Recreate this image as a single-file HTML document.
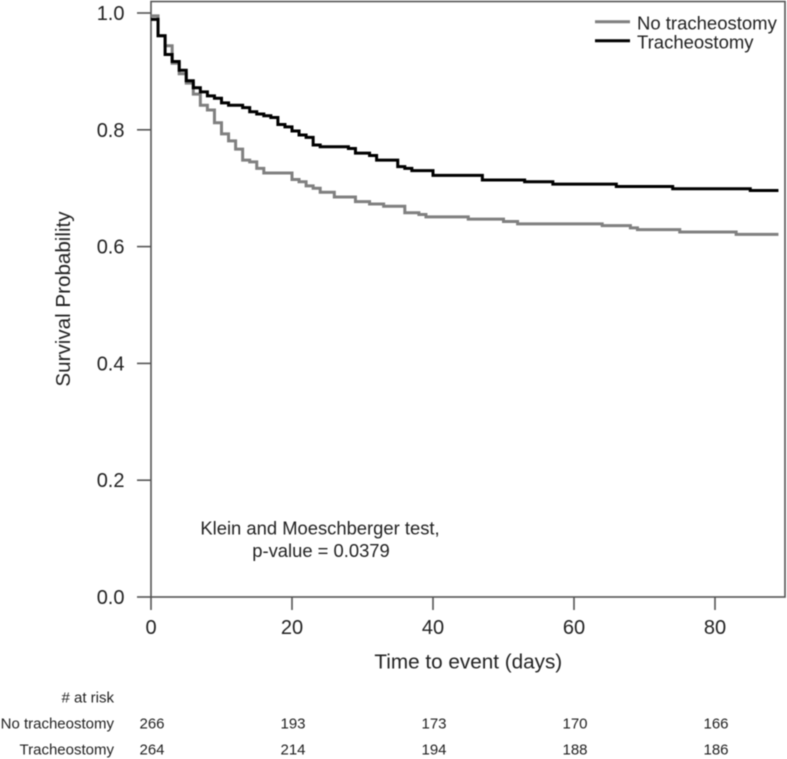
<!DOCTYPE html>
<html lang="en">
<head>
<meta charset="utf-8">
<title>Survival by tracheostomy status</title>
<style>
html,body{margin:0;padding:0;background:#fff;}
svg{display:block;filter:blur(0.4px);}
text{font-family:"Liberation Sans",Arial,sans-serif;fill:#222;}
</style>
</head>
<body>
<svg id="chart" width="787" height="759" viewBox="0 0 787 759" xmlns="http://www.w3.org/2000/svg">
  <rect width="787" height="759" fill="#fff"/>
  <rect x="151" y="1.5" width="634" height="595.5" fill="none" stroke="#555" stroke-width="1.6"/>
  <g id="axes"></g>
  <g id="series"></g>
  <g>
    <line x1="595" x2="630" y1="21.7" y2="21.7" stroke="#808080" stroke-width="3"/>
    <text x="637" y="29.3" font-size="18.5">No tracheostomy</text>
    <line x1="595" x2="630" y1="40.7" y2="40.7" stroke="#000" stroke-width="3"/>
    <text x="637" y="48.7" font-size="18.5">Tracheostomy</text>
  </g>
  <text transform="translate(70,299) rotate(-90)" text-anchor="middle" font-size="20.6">Survival Probability</text>
  <text x="468.3" y="668.5" text-anchor="middle" font-size="20.7">Time to event (days)</text>
  <text x="320" y="534.5" text-anchor="middle" font-size="18.4">Klein and Moeschberger test,</text>
  <text x="321" y="557" text-anchor="middle" font-size="18.4">p-value = 0.0379</text>
  <g id="risk">
    <text x="114" y="702.5" text-anchor="end" font-size="15"># at risk</text>
    <text x="114" y="728.5" text-anchor="end" font-size="15">No tracheostomy</text>
    <text x="114" y="754.5" text-anchor="end" font-size="15">Tracheostomy</text>
  </g>
</svg>
<script>
const xTicks = [0, 20, 40, 60, 80];
const yTicks = [0, 0.2, 0.4, 0.6, 0.8, 1.0];
const riskTimes = [0, 20, 40, 60, 80];
const riskNoTrach = [266, 193, 173, 170, 166];
const riskTrach = [264, 214, 194, 188, 186];
const endDay = 89;

const noTrachDays = [0,1,2,3,4,5,6,7,8,9,10,11,12,13,14,15,16,20,21,22,23,24,26,29,31,33,36,38,39,45,50,52,64,68,69,75,83];
const noTrachSurv = [0.995,0.961,0.944,0.914,0.896,0.880,0.861,0.842,0.834,0.812,0.793,0.781,0.767,0.748,0.745,0.734,0.726,0.715,0.711,0.704,0.700,0.693,0.685,0.677,0.673,0.669,0.658,0.655,0.651,0.647,0.643,0.639,0.636,0.632,0.629,0.625,0.621];

const trachDays = [0,1,2,3,4,5,6,7,8,9,10,11,13,14,15,16,17,18,19,20,21,22,23,24,28,29,31,32,35,36,37,40,47,53,57,66,74,85];
const trachSurv = [0.989,0.961,0.929,0.917,0.902,0.884,0.872,0.865,0.858,0.854,0.846,0.842,0.838,0.831,0.827,0.824,0.821,0.809,0.805,0.798,0.791,0.787,0.774,0.771,0.768,0.760,0.756,0.748,0.737,0.734,0.730,0.722,0.714,0.711,0.707,0.703,0.699,0.696];

const NS = 'http://www.w3.org/2000/svg';
function xScale(d) { return 151 + d * 7.05; }
function yScale(s) { return 597 - s * 584; }

function stepPath(days, surv) {
  let d = 'M' + xScale(days[0]) + ' ' + yScale(surv[0]);
  for (let i = 1; i < days.length; i++) {
    d += 'H' + xScale(days[i]) + 'V' + yScale(surv[i]);
  }
  return d + 'H' + xScale(endDay);
}

const axes = document.getElementById('axes');
xTicks.forEach(function (t) {
  const tick = document.createElementNS(NS, 'line');
  
  
  tick.setAttribute('x1', xScale(t));
  tick.setAttribute('x2', xScale(t));
  tick.setAttribute('y1', 597);
  tick.setAttribute('y2', 610);
  tick.setAttribute('stroke', '#555');
  tick.setAttribute('stroke-width', 1.6);
  axes.appendChild(tick);
  const label = document.createElementNS(NS, 'text');
  
  
  label.setAttribute('x', xScale(t));
  label.setAttribute('y', 634);
  label.setAttribute('text-anchor', 'middle');
  label.setAttribute('font-size', 20);
  label.textContent = String(t);
  axes.appendChild(label);
});
yTicks.forEach(function (t) {
  const tick = document.createElementNS(NS, 'line');
  
  
  tick.setAttribute('x1', 137);
  tick.setAttribute('x2', 151);
  tick.setAttribute('y1', yScale(t));
  tick.setAttribute('y2', yScale(t));
  tick.setAttribute('stroke', '#555');
  tick.setAttribute('stroke-width', 1.6);
  axes.appendChild(tick);
  const label = document.createElementNS(NS, 'text');
  
  
  label.setAttribute('x', 124.5);
  label.setAttribute('y', yScale(t) + 7);
  label.setAttribute('text-anchor', 'end');
  label.setAttribute('font-size', 20);
  label.textContent = t.toFixed(1);
  axes.appendChild(label);
});

const seriesGroup = document.getElementById('series');
const grayCurve = document.createElementNS(NS, 'path');


grayCurve.setAttribute('d', stepPath(noTrachDays, noTrachSurv));
grayCurve.setAttribute('fill', 'none');
grayCurve.setAttribute('stroke', '#808080');
grayCurve.setAttribute('stroke-width', 3);
seriesGroup.appendChild(grayCurve);
const blackCurve = document.createElementNS(NS, 'path');


blackCurve.setAttribute('d', stepPath(trachDays, trachSurv));
blackCurve.setAttribute('fill', 'none');
blackCurve.setAttribute('stroke', '#000');
blackCurve.setAttribute('stroke-width', 3);
seriesGroup.appendChild(blackCurve);

const risk = document.getElementById('risk');
riskTimes.forEach(function (t, i) {
  const a = document.createElementNS(NS, 'text');
  
  
  a.setAttribute('x', xScale(t) + 1);
  a.setAttribute('y', 728.5);
  a.setAttribute('text-anchor', 'middle');
  a.setAttribute('font-size', 15);
  a.textContent = riskNoTrach[i];
  risk.appendChild(a);
  const b = document.createElementNS(NS, 'text');
  
  
  b.setAttribute('x', xScale(t) + 1);
  b.setAttribute('y', 754.5);
  b.setAttribute('text-anchor', 'middle');
  b.setAttribute('font-size', 15);
  b.textContent = riskTrach[i];
  risk.appendChild(b);
});
</script>
</body>
</html>
